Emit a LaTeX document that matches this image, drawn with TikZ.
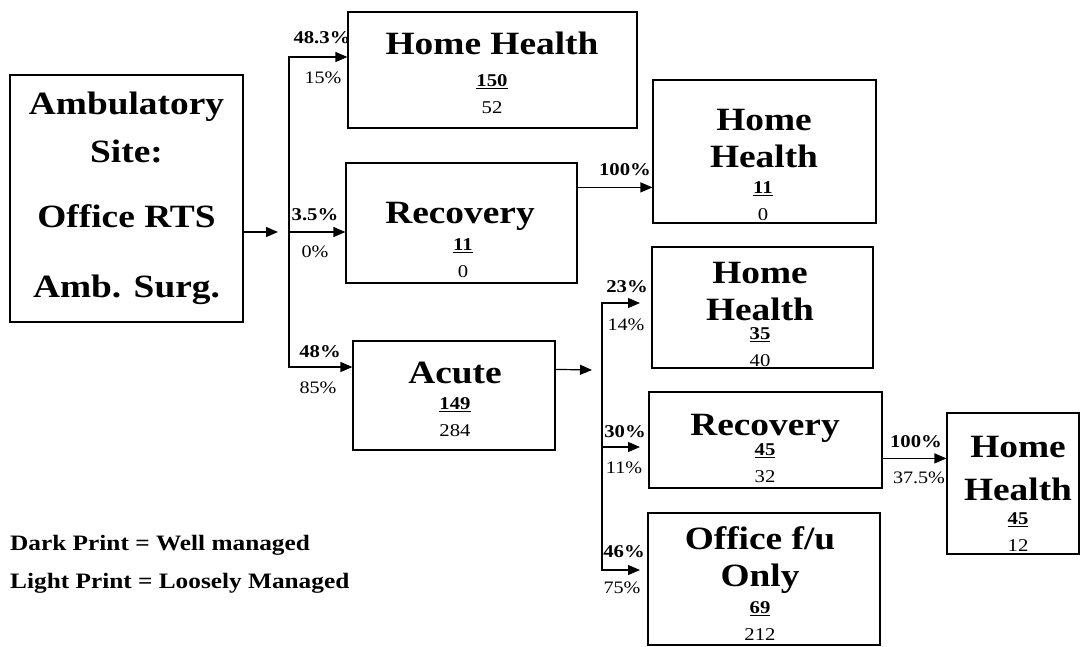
\documentclass[tikz,border=0pt]{standalone}
\usepackage{fontspec}
\setmainfont{Liberation Serif}[FakeStretch=1.15]
\usetikzlibrary{arrows.meta,positioning}

\newcommand{\wellm}[1]{\underline{\textbf{#1}}}

\begin{document}
\begin{tikzpicture}[
    x=1pt, y=-1pt,
    box/.style={draw, line width=1.2pt, inner sep=0pt},
    title/.style={font=\fontsize{32.5}{37}\selectfont\bfseries, align=center, inner sep=0pt},
    nums/.style={font=\fontsize{18}{27}\selectfont, align=center, inner sep=0pt},
    pct/.style={font=\fontsize{17.5}{20}\selectfont, inner sep=0pt},
    pctb/.style={font=\fontsize{18}{20}\selectfont\bfseries, inner sep=0pt},
    legend/.style={font=\fontsize{22}{24}\selectfont\bfseries, inner sep=0pt, anchor=west},
    flow/.style={-{Triangle[length=12pt,width=10pt]}, line width=1.2pt}
]
\useasboundingbox (0,0) rectangle (1081,646);

% boxes
\node[box, minimum width=233pt, minimum height=247pt, font=\fontsize{32.5}{48}\selectfont\bfseries, align=center] (amb) at (126.5,198.5)
    {Ambulatory\\Site:\\[17pt]Office RTS\\[22pt]Amb. Surg.};
\node[box, minimum width=289pt, minimum height=116pt] (hh1) at (492.5,70) {};
\node[box, minimum width=231pt, minimum height=120pt] (rec1) at (461.5,223) {};
\node[box, minimum width=223pt, minimum height=143pt] (hh2) at (764.5,151.5) {};
\node[box, minimum width=202pt, minimum height=109pt] (acute) at (454,395.5) {};
\node[box, minimum width=221pt, minimum height=121pt] (hh3) at (762.5,307.5) {};
\node[box, minimum width=233pt, minimum height=96pt] (rec2) at (765.5,440) {};
\node[box, minimum width=232pt, minimum height=132pt] (off) at (764,579) {};
\node[box, minimum width=132pt, minimum height=141pt] (hh4) at (1013,483.5) {};

% box texts
\node[title] (hh1t) at (492,43) {Home Health};
\node[nums] (hh1n) at (492,94) {\wellm{150}\\52};
\node[title] (rec1t) at (460,216) {Recovery};
\node[nums] (rec1n) at (463,258.5) {\wellm{11}\\0};
\node[title] (hh2t) at (764,138.5) {Home\\Health};
\node[nums] (hh2n) at (763,201.5) {\wellm{11}\\0};
\node[title] (acutet) at (455,373) {Acute};
\node[nums] (acuten) at (455,417.5) {\wellm{149}\\284};
\node[title] (hh3t) at (760,291.5) {Home\\Health};
\node[nums] (hh3n) at (760,347.5) {\wellm{35}\\40};
\node[title] (rec2t) at (765,428) {Recovery};
\node[nums] (rec2n) at (765,463.5) {\wellm{45}\\32};
\node[title] (offt) at (760,560) {Office f/u\\Only};
\node[nums] (offn) at (760,621) {\wellm{69}\\212};
\node[title] (hh4t) at (1018,468.5) {Home\\[6pt]Health};
\node[nums] (hh4n) at (1018,532.5) {\wellm{45}\\12};

% first split
\coordinate (j1in) at (278,232);
\coordinate (b1top) at (289,57);
\coordinate (b1mid) at (289,232);
\coordinate (b1bot) at (289,367);
\draw[flow] (amb.east |- j1in) -- (j1in);
\draw[flow] (b1mid) |- (hh1.west |- b1top);
\draw[flow] (b1mid) -- (rec1.west |- b1mid);
\draw[flow] (b1mid) |- (acute.west |- b1bot);

% second split
\path (acute.north east) ++(0,29) coordinate (acout);
\coordinate (j2in) at (592,370);
\coordinate (b2top) at (602,303);
\coordinate (b2mid) at (602,447);
\coordinate (b2bot) at (602,570);
\coordinate (e1) at (640,303);
\coordinate (e2) at (640,447);
\coordinate (e3) at (640,570);
\draw[flow] (acout) -- (j2in);
\draw[flow] (b2mid) |- (e1);
\draw[flow] (b2mid) -- (e2);
\draw[flow] (b2mid) |- (e3);

% onward
\path (rec1.north east) ++(0,25) coordinate (r1out);
\path (rec2.north east) ++(0,67) coordinate (r2out);
\draw[flow] (r1out) -- (r1out -| hh2.west);
\draw[flow] (r2out) -- (r2out -| hh4.west);

% percentages
\node[pctb] (p1a) at (322,38) {48.3\%};
\node[pct]  (p1b) at (323,78) {15\%};
\node[pctb] (p2a) at (315,215) {3.5\%};
\node[pct]  (p2b) at (315,252) {0\%};
\node[pctb] (p3a) at (320,352) {48\%};
\node[pct]  (p3b) at (318,388) {85\%};
\node[pctb] (p4a) at (625,170) {100\%};
\node[pctb] (p5a) at (627,287) {23\%};
\node[pct]  (p5b) at (626,325) {14\%};
\node[pctb] (p6a) at (625,432) {30\%};
\node[pct]  (p6b) at (624,468) {11\%};
\node[pctb] (p7a) at (624,552) {46\%};
\node[pct]  (p7b) at (622,588) {75\%};
\node[pctb] (p8a) at (916,442) {100\%};
\node[pct]  (p8b) at (919,478) {37.5\%};

% key
\node[legend] (key1) at (10,545) {Dark Print = Well managed};
\node[legend] (key2) at (10,583) {Light Print = Loosely Managed};
\end{tikzpicture}
\end{document}
